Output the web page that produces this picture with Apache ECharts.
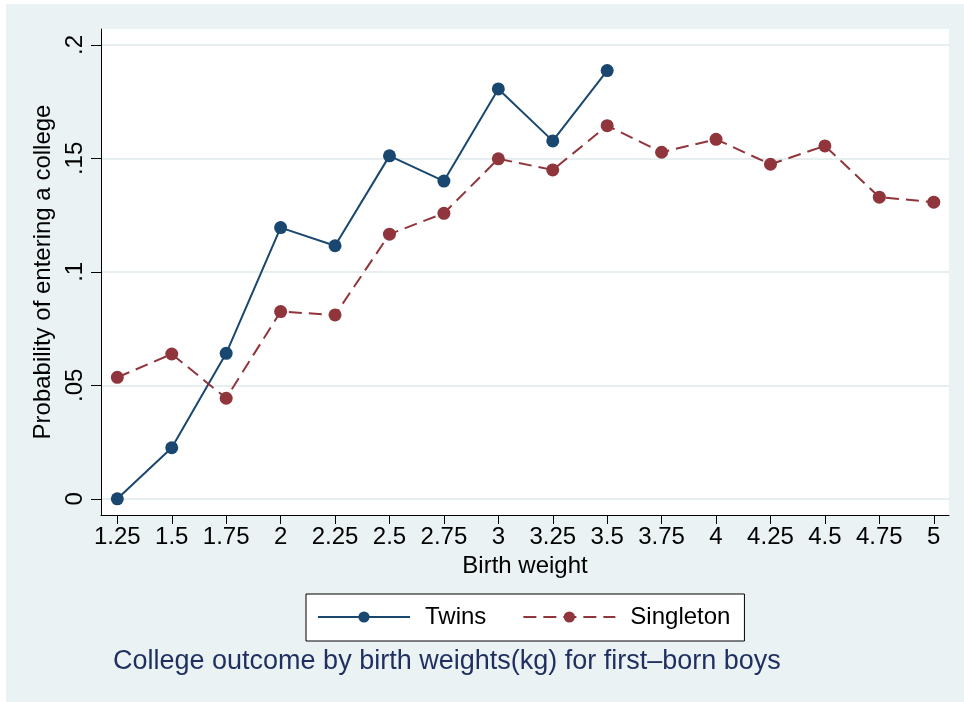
<!DOCTYPE html>
<html>
<head>
<meta charset="utf-8">
<script src="https://cdn.jsdelivr.net/npm/echarts@6/dist/echarts.min.js"></script>
<style>
  html, body { margin: 0; padding: 0; background: #fff; }
  #chart { width: 964px; height: 702px; }
</style>
</head>
<body>
<div id="chart"></div>
<script>
// birth weight categories (kg)
const weights = [1.25, 1.5, 1.75, 2, 2.25, 2.5, 2.75, 3, 3.25, 3.5, 3.75, 4, 4.25, 4.5, 4.75, 5];
// probability of entering a college
const twins = [0, 0.0225, 0.0641, 0.1195, 0.1115, 0.1511, 0.1400, 0.1806, 0.1577, 0.1887];
const singleton = [0.0535, 0.0638, 0.0443, 0.0825, 0.0810, 0.1166, 0.1258, 0.1498, 0.1449, 0.1644,
                   0.1527, 0.1584, 0.1474, 0.1555, 0.1329, 0.1307];
const xTicks = weights;
const yTicks = [0, 0.05, 0.1, 0.15, 0.2];

const navy = '#1a476f';
const maroon = '#90353b';
const bg = '#eaf2f3';
const font = 'Liberation Sans';

const pairs = (vals) => vals.map((v, i) => [weights[i], v]);

const chart = echarts.init(document.getElementById('chart'));
chart.setOption({
  backgroundColor: bg,
  animation: false,
  textStyle: { fontFamily: font },
  graphic: [
    // white page strips round the figure
    { type: 'rect', left: 0, top: 0, shape: { width: 964, height: 4 }, style: { fill: '#fff' } },
    { type: 'rect', left: 0, top: 0, shape: { width: 6, height: 702 }, style: { fill: '#fff' } }
  ],
  title: {
    text: 'College outcome by birth weights(kg) for first\u2013born boys',
    left: 108,
    top: 643,
    textStyle: { fontFamily: font, fontSize: 27, fontWeight: 'normal', color: '#1f2f5f' }
  },
  legend: {
    left: 306,
    top: 594,
    padding: [11, 14, 12, 11],
    itemWidth: 92,
    itemHeight: 14,
    itemGap: 36,
    borderColor: '#000',
    borderWidth: 1,
    backgroundColor: '#fff',
    textStyle: { fontFamily: font, fontSize: 24, color: '#000', padding: [0, 0, 0, 10] },
    data: ['Twins', 'Singleton']
  },
  grid: {
    left: 101,
    right: 15,
    top: 29,
    bottom: 187,
    show: true,
    backgroundColor: '#fff',
    borderWidth: 0
  },
  xAxis: {
    type: 'value',
    min: 1.175,
    max: 5.07,
    name: 'Birth weight',
    nameLocation: 'middle',
    nameGap: 39,
    nameTextStyle: { fontFamily: font, fontSize: 24, color: '#000' },
    axisLine: { show: true, onZero: false, lineStyle: { color: '#000', width: 1 } },
    axisTick: { show: true, length: 9, customValues: xTicks, lineStyle: { color: '#000', width: 1 } },
    axisLabel: { customValues: xTicks, margin: 10, fontFamily: font, fontSize: 24, color: '#000' },
    splitLine: { show: false }
  },
  yAxis: {
    type: 'value',
    min: -0.00714,
    max: 0.207,
    name: 'Probability of entering a college',
    nameLocation: 'middle',
    nameGap: 43,
    nameTextStyle: { fontFamily: font, fontSize: 24, color: '#000' },
    axisLine: { show: true, onZero: false, lineStyle: { color: '#000', width: 1 } },
    axisTick: { show: true, length: 10, customValues: yTicks, lineStyle: { color: '#000', width: 1 } },
    axisLabel: {
      customValues: yTicks,
      rotate: 90,
      margin: 14,
      fontFamily: font,
      fontSize: 24,
      color: '#000',
      formatter: (v) => (v === 0 ? '0' : String(+v.toFixed(2)).replace(/^0/, ''))
    },
    splitLine: { show: true, lineStyle: { color: '#e6eef0', width: 2 } }
  },
  series: [
    {
      name: 'Twins',
      type: 'line',
      data: pairs(twins),
      symbol: 'circle',
      symbolSize: 13,
      itemStyle: { color: navy },
      lineStyle: { color: navy, width: 2 }
    },
    {
      name: 'Singleton',
      type: 'line',
      data: pairs(singleton),
      symbol: 'circle',
      symbolSize: 13,
      itemStyle: { color: maroon },
      lineStyle: { color: maroon, width: 2, type: [13, 7] }
    }
  ]
});
</script>
</body>
</html>
